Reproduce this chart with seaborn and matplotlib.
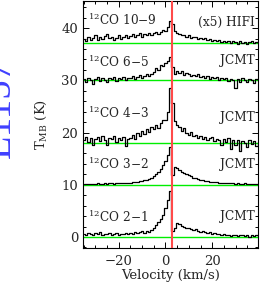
import numpy as np
import pandas as pd
import matplotlib
matplotlib.use("Agg")
import matplotlib.pyplot as plt
from matplotlib.ticker import MultipleLocator
import seaborn as sns

# Velocity channels (km/s)
velocity = list(range(-35, 41))

# Spectra (K, relative to each baseline)
co21 = [0.6,0.4,0.8,0.5,0.3,0.7,0.5,0.9,0.4,0.6,0.5,0.8,0.3,0.6,0.7,0.4,0.6,0.5,0.8,0.6,
        0.8,0.6,1.0,0.7,0.9,1.1,0.8,1.2,1.0,1.4,
        1.8,2.3,2.8,3.4,4.3,
        5.5,7.0,8.8,1.2,1.8,2.7,
        2.5,2.2,2.0,1.7,1.8,1.5,1.4,1.5,1.2,1.0,
        1.1,0.9,0.8,0.9,0.6,0.7,0.5,0.6,0.4,0.5,
        0.3,0.4,0.2,0.4,0.3,0.2,0.4,0.3,0.2,0.3,0.1,0.3,0.2,0.3,0.2]
co32 = [0.2,0.1,0.2,0.2,0.1,0.2,0.3,0.2,0.2,0.3,0.2,0.3,0.3,0.2,0.3,0.4,0.3,0.4,0.4,0.4,
        0.4,0.5,0.5,0.6,0.7,0.8,0.9,1.0,1.2,1.4,
        1.7,2.0,2.5,3.0,3.7,
        4.6,5.8,7.2,1.9,3.5,3.2,
        2.8,2.5,2.2,2.0,1.8,1.6,1.4,1.3,1.1,1.0,
        0.9,0.8,0.7,0.6,0.6,0.5,0.5,0.4,0.4,0.4,
        0.3,0.3,0.3,0.3,0.2,0.3,0.2,0.2,0.3,0.2,0.2,0.2,0.1,0.2,0.2]
co43 = [0.5,1.2,0.2,0.9,-0.4,0.8,1.1,0.3,1.4,0.6,-0.3,1.0,0.7,1.3,0.2,0.9,0.5,1.2,-0.5,0.8,
        1.0,1.6,0.8,2.0,1.4,2.4,1.7,2.6,2.1,3.0,
        2.6,3.4,2.9,3.8,4.4,
        4.5,6.0,10.5,7.7,4.2,3.5,
        3.0,2.4,2.8,2.0,1.6,2.1,1.3,1.5,1.0,1.4,
        0.8,1.2,0.5,0.9,1.1,0.3,0.8,0.6,-0.4,0.7,
        0.2,0.9,-1.2,0.5,-0.3,0.6,-1.5,0.4,0.1,-0.8,0.5,-0.2,0.3,-0.6,0.2]
co65 = [0.2,-0.4,0.5,0.0,-0.6,0.3,0.6,-0.2,0.4,0.1,-0.3,0.5,0.2,0.6,-0.1,0.4,0.3,0.7,0.1,0.5,
        0.4,0.8,0.3,0.6,1.0,0.5,0.9,1.2,0.8,1.3,
        1.6,2.4,1.9,3.0,2.8,
        3.3,3.8,4.5,2.6,1.3,1.7,
        1.4,1.8,1.0,1.5,1.2,0.8,1.1,0.9,1.3,0.7,
        0.9,0.5,0.8,0.3,0.6,0.4,0.7,0.1,0.5,0.2,
        0.4,-0.2,0.3,0.0,-1.4,0.3,-0.3,0.5,0.1,-0.4,0.3,0.0,-0.5,0.2,0.1]
co109 = [0.8,0.3,1.2,0.6,0.9,1.4,0.5,1.1,0.7,1.3,1.6,0.9,1.2,0.6,1.0,1.4,0.8,1.2,1.5,1.0,
         1.3,1.6,1.1,1.5,1.8,1.2,1.6,1.4,1.9,1.5,
         1.8,2.1,1.6,2.0,2.4,
         2.2,3.0,4.1,3.5,2.3,1.9,
         1.7,1.4,1.5,1.2,1.4,1.0,1.2,1.1,0.8,1.0,
         0.7,0.9,0.5,0.8,0.4,0.6,0.3,0.5,0.2,0.4,
         0.1,0.3,-0.1,0.3,0.2,-0.2,0.3,0.0,0.2,-0.3,0.1,0.3,-0.1,0.2,0.0]

spectra = [co21, co32, co43, co65, co109]
offsets = [0.0, 10.0, 18.0, 30.0, 37.2]
line_names = ["$^{12}$CO 2\u22121", "$^{12}$CO 3\u22122", "$^{12}$CO 4\u22123",
              "$^{12}$CO 6\u22125", "$^{12}$CO 10\u22129"]
tel_names = ["JCMT", "JCMT", "JCMT", "JCMT", "(x5) HIFI"]
name_y = [3.8, 13.9, 23.8, 33.5, 41.5]
tel_y = [4.0, 13.9, 22.9, 33.9, 41.1]
v_lsr = 2.6

sns.set_style("ticks")
plt.rcParams["font.family"] = ["DejaVu Serif"]
plt.rcParams["mathtext.fontset"] = "dejavuserif"

fig = plt.figure(figsize=(2.61, 2.84), dpi=100)
ax = fig.add_axes([83/261, 1 - 248/284, 175/261, 247/284])

for spec, off in zip(spectra, offsets):
    ax.axhline(off, color="#00ee00", lw=1.0, zorder=1)

for spec, off in zip(spectra, offsets):
    df = pd.DataFrame({"v": velocity, "T": np.array(spec) + off})
    sns.lineplot(data=df, x="v", y="T", ax=ax, color="black", lw=0.9,
                 drawstyle="steps-mid", estimator=None, zorder=2)

ax.axvline(v_lsr, color="#ff4a4a", lw=1.5, zorder=3)

for nm, ny, tn, ty in zip(line_names, name_y, tel_names, tel_y):
    ax.text(-33.2, ny, nm, fontsize=8.7, ha="left", va="center")
    ax.text(38.3, ty, tn, fontsize=8.7, ha="right", va="center")

ax.set_xlim(-35.3, 39.6)
ax.set_ylim(-2.1, 45.2)
ax.xaxis.set_major_locator(MultipleLocator(20))
ax.xaxis.set_minor_locator(MultipleLocator(5))
ax.yaxis.set_major_locator(MultipleLocator(10))
ax.yaxis.set_minor_locator(MultipleLocator(2))
ax.tick_params(which="both", direction="in", top=True, right=True,
               labelsize=9.5, width=0.7, color="black")
ax.tick_params(which="major", length=4)
ax.tick_params(which="minor", length=2)
ax.tick_params(axis="x", which="major", pad=5)
for s in ax.spines.values():
    s.set_linewidth(0.8)
    s.set_color("black")
ax.set_xlabel("Velocity (km/s)", fontsize=9.5, labelpad=1)
ax.set_ylabel("T$_{\\rm MB}$ (K)", fontsize=9.5, labelpad=9)

fig.text(19/261, 1 - 108/284, "L1157", rotation=90, color="#4040ff",
         fontsize=28, ha="right", va="center", family=["Liberation Serif"])

fig.savefig("out.png", dpi=100)
